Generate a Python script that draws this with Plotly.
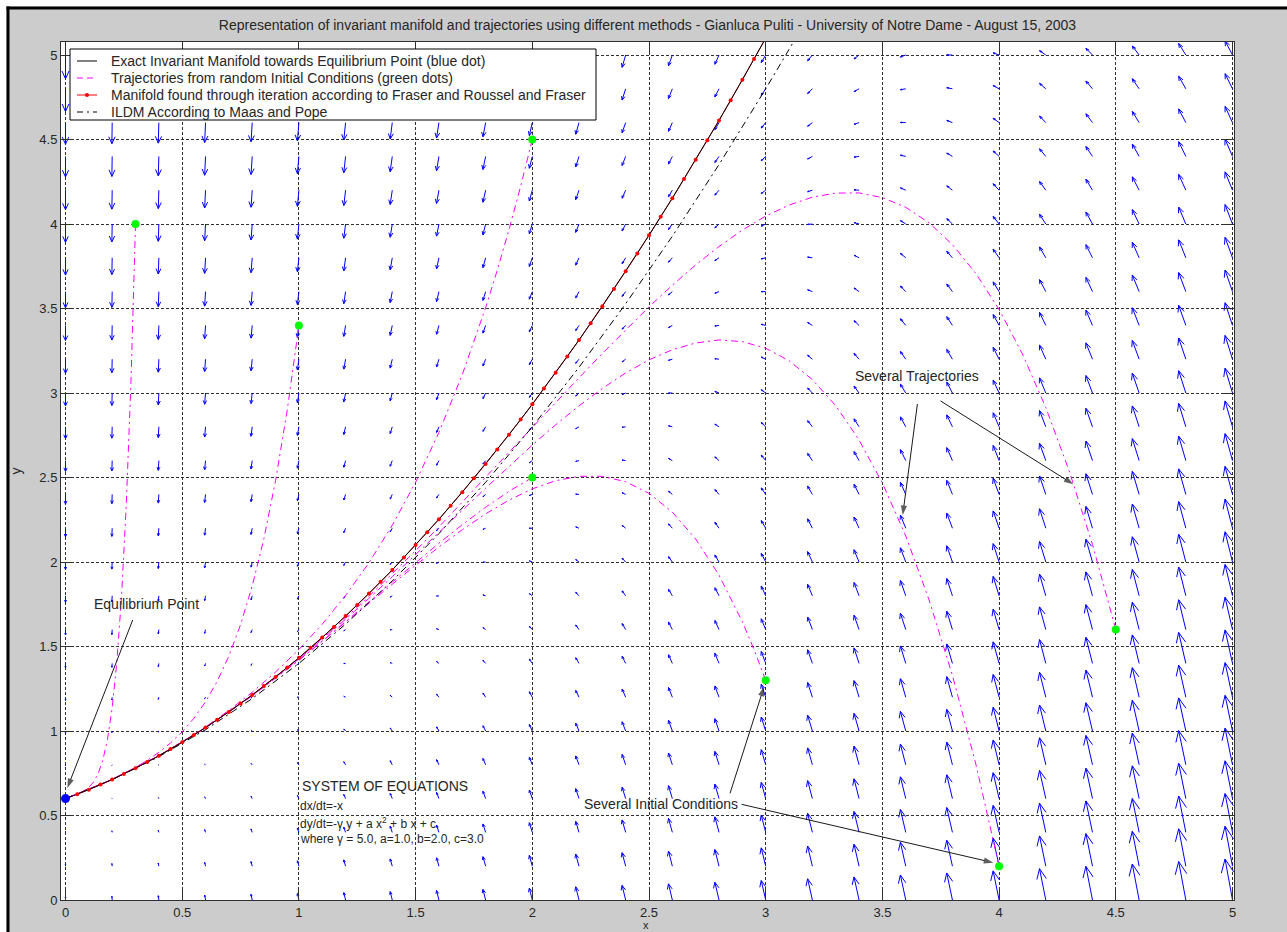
import math
import numpy as np
import plotly.graph_objects as go
import plotly.figure_factory as ff

# ---------------- data ----------------
title_text = ("Representation of invariant manifold and trajectories using different methods - "
              "Gianluca Puliti - University of Notre Dame - August 15, 2003")

# quiver grid (x = 0:0.2:5, y = 0:0.2:5) and the system written on the chart
grid_x = [0.0, 0.2, 0.4, 0.6, 0.8, 1.0, 1.2, 1.4, 1.6, 1.8, 2.0, 2.2, 2.4, 2.6, 2.8,
          3.0, 3.2, 3.4, 3.6, 3.8, 4.0, 4.2, 4.4, 4.6, 4.8, 5.0]
grid_y = [0.0, 0.2, 0.4, 0.6, 0.8, 1.0, 1.2, 1.4, 1.6, 1.8, 2.0, 2.2, 2.4, 2.6, 2.8,
          3.0, 3.2, 3.4, 3.6, 3.8, 4.0, 4.2, 4.4, 4.6, 4.8, 5.0]
gamma_coef, a_coef, b_coef, c_coef = 5.0, 1.0, 2.0, 3.0

tick_vals = [0, 0.5, 1, 1.5, 2, 2.5, 3, 3.5, 4, 4.5, 5]
tick_text = ["0", "0.5", "1", "1.5", "2", "2.5", "3", "3.5", "4", "4.5", "5"]
x_label = "x"
y_label = "y"

# exact invariant manifold (black solid)
exact_x = [0.0, 0.1, 0.2, 0.3, 0.4, 0.5, 0.6, 0.7, 0.8, 0.9, 1.0, 1.1, 1.2, 1.3, 1.4, 1.5,
           1.6, 1.7, 1.8, 1.9, 2.0, 2.1, 2.2, 2.3, 2.4, 2.5, 2.6, 2.7, 2.8, 2.9, 3.0]
exact_y = [0.6, 0.653, 0.713, 0.78, 0.853, 0.933, 1.02, 1.113, 1.213, 1.32, 1.433, 1.553,
           1.68, 1.813, 1.953, 2.1, 2.253, 2.413, 2.58, 2.753, 2.933, 3.12, 3.313, 3.513,
           3.72, 3.933, 4.153, 4.38, 4.613, 4.853, 5.1]

# manifold through iteration (red dots)
iter_x = [0.05, 0.10, 0.15, 0.20, 0.25, 0.30, 0.35, 0.40, 0.45, 0.50,
          0.55, 0.60, 0.65, 0.70, 0.75, 0.80, 0.85, 0.90, 0.95, 1.00,
          1.05, 1.10, 1.15, 1.20, 1.25, 1.30, 1.35, 1.40, 1.45, 1.50,
          1.55, 1.60, 1.65, 1.70, 1.75, 1.80, 1.85, 1.90, 1.95, 2.00,
          2.05, 2.10, 2.15, 2.20, 2.25, 2.30, 2.35, 2.40, 2.45, 2.50,
          2.55, 2.60, 2.65, 2.70, 2.75, 2.80, 2.85, 2.90, 2.95, 3.00]
iter_y = [0.626, 0.653, 0.683, 0.713, 0.746, 0.78, 0.816, 0.853, 0.893, 0.933,
          0.976, 1.02, 1.066, 1.113, 1.163, 1.213, 1.266, 1.32, 1.376, 1.433,
          1.493, 1.553, 1.616, 1.68, 1.746, 1.813, 1.883, 1.953, 2.026, 2.1,
          2.176, 2.253, 2.333, 2.413, 2.496, 2.58, 2.666, 2.753, 2.843, 2.933,
          3.026, 3.12, 3.216, 3.313, 3.413, 3.513, 3.616, 3.72, 3.826, 3.933,
          4.043, 4.153, 4.266, 4.38, 4.496, 4.613, 4.733, 4.853, 4.976, 5.1]

# ILDM (black dash-dot)
ildm_x = [0.0, 0.2, 0.4, 0.6, 0.8, 1.0, 1.2, 1.4, 1.6, 1.8, 2.0, 2.2, 2.4, 2.6, 2.8, 3.0, 3.1, 3.2]
ildm_y = [0.6, 0.712, 0.848, 1.008, 1.192, 1.4, 1.632, 1.888, 2.168, 2.472, 2.8, 3.152,
          3.528, 3.928, 4.352, 4.8, 5.033, 5.272]

# trajectories (magenta dash-dot)
traj1_x = [0.3, 0.28, 0.26, 0.24, 0.22, 0.2, 0.18, 0.16, 0.14, 0.12, 0.1, 0.08, 0.05, 0.0]
traj1_y = [4.0, 3.047, 2.327, 1.794, 1.409, 1.137, 0.951, 0.828, 0.748, 0.698, 0.667, 0.647, 0.626, 0.6]
traj2_x = [1.0, 0.95, 0.9, 0.85, 0.8, 0.75, 0.7, 0.65, 0.6, 0.55, 0.5, 0.45, 0.4, 0.35, 0.3, 0.2, 0.1, 0.0]
traj2_y = [3.4, 2.898, 2.481, 2.138, 1.858, 1.629, 1.444, 1.294, 1.173, 1.075, 0.995, 0.929,
           0.874, 0.826, 0.785, 0.714, 0.653, 0.6]
traj3_x = [2.0, 1.95, 1.9, 1.85, 1.8, 1.7, 1.6, 1.5, 1.4, 1.3, 1.2, 1.1, 1.0, 0.9, 0.8, 0.7,
           0.6, 0.5, 0.4, 0.2, 0.0]
traj3_y = [4.5, 4.223, 3.966, 3.727, 3.505, 3.109, 2.767, 2.472, 2.217, 1.995, 1.802, 1.632,
           1.482, 1.349, 1.229, 1.122, 1.024, 0.935, 0.854, 0.713, 0.6]
traj4_x = [2.0, 1.9, 1.8, 1.7, 1.6, 1.5, 1.4, 1.3, 1.2, 1.1, 1.0, 0.8, 0.6, 0.4, 0.2, 0.0]
traj4_y = [2.5, 2.418, 2.324, 2.221, 2.111, 1.997, 1.881, 1.763, 1.646, 1.532, 1.42, 1.209,
           1.019, 0.853, 0.713, 0.6]
traj5_x = [3.0, 2.95, 2.9, 2.8, 2.7, 2.6, 2.5, 2.4, 2.3, 2.2, 2.1, 2.0, 1.9, 1.8, 1.7, 1.6,
           1.5, 1.4, 1.3, 1.2, 1.0, 0.8, 0.6, 0.4, 0.2, 0.0]
traj5_y = [1.3, 1.482, 1.646, 1.922, 2.136, 2.295, 2.406, 2.475, 2.507, 2.507, 2.481, 2.433,
           2.366, 2.285, 2.191, 2.089, 1.981, 1.869, 1.755, 1.641, 1.418, 1.208, 1.019, 0.853,
           0.713, 0.6]
traj6_x = [4.0, 3.9, 3.8, 3.7, 3.6, 3.5, 3.4, 3.3, 3.2, 3.1, 3.0, 2.9, 2.8, 2.7, 2.6, 2.5,
           2.4, 2.3, 2.2, 2.1, 2.0, 1.9, 1.8, 1.7, 1.6, 1.5, 1.4, 1.3, 1.2, 1.0, 0.8, 0.6,
           0.4, 0.2, 0.0]
traj6_y = [0.2, 0.806, 1.329, 1.776, 2.154, 2.467, 2.722, 2.925, 3.079, 3.191, 3.265, 3.304,
           3.314, 3.296, 3.256, 3.196, 3.119, 3.027, 2.924, 2.812, 2.692, 2.566, 2.437, 2.306,
           2.174, 2.043, 1.913, 1.785, 1.661, 1.426, 1.211, 1.019, 0.853, 0.713, 0.6]
traj7_x = [4.5, 4.4, 4.3, 4.2, 4.1, 4.0, 3.9, 3.8, 3.7, 3.6, 3.5, 3.4, 3.3, 3.2, 3.1, 3.0,
           2.9, 2.8, 2.7, 2.6, 2.5, 2.4, 2.3, 2.2, 2.1, 2.0, 1.9, 1.8, 1.7, 1.6, 1.5, 1.4,
           1.3, 1.2, 1.0, 0.8, 0.6, 0.4, 0.2, 0.0]
traj7_y = [1.6, 2.104, 2.54, 2.914, 3.231, 3.494, 3.708, 3.878, 4.007, 4.099, 4.156, 4.184,
           4.183, 4.159, 4.112, 4.047, 3.964, 3.867, 3.758, 3.638, 3.51, 3.375, 3.234, 3.09,
           2.943, 2.795, 2.646, 2.498, 2.352, 2.208, 2.067, 1.93, 1.797, 1.669, 1.429, 1.212,
           1.02, 0.853, 0.713, 0.6]

# equilibrium point (blue) and initial conditions (green)
equil_x = [0.0]
equil_y = [0.6]
ic_x = [0.3, 1.0, 2.0, 2.0, 3.0, 4.0, 4.5]
ic_y = [4.0, 3.4, 4.5, 2.5, 1.3, 0.2, 1.6]

legend_names = [
    "Exact Invariant Manifold towards Equilibrium Point (blue dot)",
    "Trajectories from random Initial Conditions (green dots)",
    "Manifold found through iteration according to Fraser and Roussel and Fraser",
    "ILDM According to Maas and Pope",
]

# ---------------- layout helpers ----------------
W, H = 1287, 932
PL, PR, PT, PB = 61, 1234, 42, 900          # plot area in pixels
FONT = "Liberation Sans, Arial, Helvetica, sans-serif"
TXT = "#262626"
DASHDOT = "7px,4px,2px,4px"


def px_x(p):
    return (p - PL) / (PR - PL)


def px_y(p):
    return (PB - p) / (PB - PT)


# ---------------- quiver (MATLAB-style autoscale) ----------------
GX, GY = np.meshgrid(np.array(grid_x), np.array(grid_y))
U = -GX
V = -gamma_coef * GY + a_coef * GX ** 2 + b_coef * GX + c_coef
n = len(grid_x)
delx = (max(grid_x) - min(grid_x)) / n
dely = (max(grid_y) - min(grid_y)) / n
del2 = delx ** 2 + dely ** 2
maxlen = float(np.sqrt((U ** 2 + V ** 2) / del2).max())
q_scale = 0.9 / maxlen
alpha, beta = 0.33, 0.33
quiv = ff.create_quiver(GX.flatten().tolist(), GY.flatten().tolist(),
                        U.flatten().tolist(), V.flatten().tolist(),
                        scale=q_scale, arrow_scale=alpha * math.sqrt(1 + beta ** 2),
                        angle=math.atan(beta),
                        line=dict(color="#0000ff", width=1),
                        hoverinfo="skip", showlegend=False, name="field")

fig = go.Figure()
fig.add_trace(quiv.data[0])


def join(*pairs):
    xs, ys = [], []
    for px_, py_ in pairs:
        xs += list(px_) + [None]
        ys += list(py_) + [None]
    return xs, ys


tx, ty = join((traj1_x, traj1_y), (traj2_x, traj2_y), (traj3_x, traj3_y), (traj4_x, traj4_y),
              (traj5_x, traj5_y), (traj6_x, traj6_y), (traj7_x, traj7_y))

fig.add_trace(go.Scatter(x=tx, y=ty, mode="lines", name=legend_names[1], showlegend=False,
                         line=dict(color="#ff00ff", width=1, dash=DASHDOT),
                         connectgaps=False, hoverinfo="skip"))
fig.add_trace(go.Scatter(x=ildm_x, y=ildm_y, mode="lines", name=legend_names[3], showlegend=False,
                         line=dict(color="#000000", width=1, dash=DASHDOT), hoverinfo="skip"))
fig.add_trace(go.Scatter(x=iter_x, y=iter_y, mode="lines", name=legend_names[2], showlegend=False,
                         line=dict(color="#ff0000", width=1), hoverinfo="skip"))
fig.add_trace(go.Scatter(x=exact_x, y=exact_y, mode="lines", name=legend_names[0], showlegend=False,
                         line=dict(color="#000000", width=1), hoverinfo="skip"))
fig.add_trace(go.Scatter(x=iter_x, y=iter_y, mode="markers", showlegend=False,
                         marker=dict(color="#ff0000", size=4), hoverinfo="skip"))
fig.add_trace(go.Scatter(x=ic_x, y=ic_y, mode="markers", showlegend=False, cliponaxis=False,
                         marker=dict(color="#00ff00", size=8), hoverinfo="skip"))
fig.add_trace(go.Scatter(x=equil_x, y=equil_y, mode="markers", showlegend=False, cliponaxis=False,
                         marker=dict(color="#0000ff", size=9), hoverinfo="skip"))

# annotation arrows: (tail_x, tail_y, tip_x, tip_y) in data units
arrows = [
    (0.288, 1.657, 0.008, 0.663),
    (3.650, 2.935, 3.587, 2.278),
    (3.749, 2.953, 4.318, 2.460),
    (2.847, 0.631, 2.993, 1.262),
    (2.897, 0.566, 3.975, 0.221),
]
for ax_, ay_, x_, y_ in arrows:
    fig.add_trace(go.Scatter(x=[ax_, x_], y=[ay_, y_], mode="lines+markers", showlegend=False,
                             hoverinfo="skip", cliponaxis=False,
                             line=dict(color="#1a1a1a", width=1),
                             marker=dict(symbol="arrow", size=[0, 10], angleref="previous",
                                         color="#1a1a1a", line=dict(width=0))))

axis_common = dict(
    tickvals=tick_vals, ticktext=tick_text, showgrid=True, gridcolor="#303030", gridwidth=1,
    griddash="3px,2px", ticks="inside", ticklen=11, tickwidth=1, tickcolor="#303030",
    showline=True, linecolor="#303030", linewidth=1, mirror="ticks", zeroline=False,
    automargin=False, tickfont=dict(family=FONT, size=13, color=TXT),
)

fig.update_layout(
    width=W, height=H, autosize=False,
    paper_bgcolor="#cccccc", plot_bgcolor="#ffffff",
    margin=dict(l=PL, r=W - PR, t=PT, b=H - PB, pad=0),
    font=dict(family=FONT, color=TXT, size=12),
    title=dict(text=title_text, x=0.5, xref="paper", xanchor="center",
               y=1 - 25 / H, yref="container", yanchor="middle",
               font=dict(family=FONT, size=14, color=TXT)),
    xaxis=dict(range=[-0.0193, 5.0064], **axis_common),
    yaxis=dict(range=[0, 5.077], title=dict(text=y_label, standoff=14,
                                            font=dict(family=FONT, size=14, color=TXT)),
               **axis_common),
    showlegend=False,
)

# x-axis label, at the very bottom edge as in the screenshot
fig.add_annotation(text=x_label, xref="paper", yref="paper", x=px_x(646), y=px_y(932),
                   xanchor="center", yanchor="bottom", showarrow=False, borderpad=0,
                   font=dict(family=FONT, size=11, color=TXT))

# text annotations in data units
texts = [
    dict(text="Equilibrium Point", x=0.349, y=1.751, size=14, xanchor="center"),
    dict(text="Several Trajectories", x=3.647, y=3.102, size=14, xanchor="center"),
    dict(text="Several Initial Conditions", x=2.551, y=0.568, size=14, xanchor="center"),
    dict(text="SYSTEM OF EQUATIONS", x=1.005, y=0.675, size=14, xanchor="left"),
    dict(text="dx/dt=-x", x=0.995, y=0.558, size=12, xanchor="left"),
    dict(text="dy/dt=-γ y + a x<sup>2</sup> + b x + c", x=0.995, y=0.456, size=12, xanchor="left"),
    dict(text="where γ = 5.0, a=1.0, b=2.0, c=3.0", x=0.995, y=0.359, size=12, xanchor="left"),
]
for t in texts:
    fig.add_annotation(text=t["text"], x=t["x"], y=t["y"], xref="x", yref="y",
                       xanchor=t["xanchor"], yanchor="middle", showarrow=False,
                       font=dict(family=FONT, size=t["size"], color=TXT))

# ---------------- legend box (MATLAB style) ----------------
LEG_L, LEG_R, LEG_T, LEG_B = 70, 596, 49, 120
row_y = [61, 78, 95, 112]
fig.add_shape(type="rect", xref="paper", yref="paper",
              x0=px_x(LEG_L), x1=px_x(LEG_R), y0=px_y(LEG_B), y1=px_y(LEG_T),
              fillcolor="#ffffff", line=dict(color="#000000", width=1), layer="above")
legend_styles = [
    dict(color="#000000", dash="solid"),
    dict(color="#ff00ff", dash="6px,4px"),
    dict(color="#ff0000", dash="solid"),
    dict(color="#000000", dash="6px,4px,2px,4px"),
]
for i, (name, st) in enumerate(zip(legend_names, legend_styles)):
    yy = px_y(row_y[i])
    fig.add_shape(type="line", xref="paper", yref="paper", x0=px_x(77), x1=px_x(97), y0=yy, y1=yy,
                  line=dict(color=st["color"], width=1, dash=st["dash"]), layer="above")
    if i == 2:
        fig.add_shape(type="circle", xref="paper", yref="paper",
                      x0=px_x(85), x1=px_x(89), y0=px_y(row_y[i] + 2), y1=px_y(row_y[i] - 2),
                      fillcolor="#ff0000", line=dict(width=0), layer="above")
    fig.add_annotation(text=name, xref="paper", yref="paper", x=px_x(109), y=yy,
                       xanchor="left", yanchor="middle", showarrow=False,
                       font=dict(family=FONT, size=14, color=TXT))

# window frame (white page edge + black border) drawn in paper coordinates
frame = [
    (0, 0, W, 6.5, "#ffffff"),
    (0, 0, 6.5, H, "#ffffff"),
    (6.5, 6.5, W, 9.5, "#000000"),
    (6.5, 6.5, 9.5, H, "#000000"),
]
for x0, y0, x1, y1, col in frame:
    fig.add_shape(type="rect", xref="paper", yref="paper",
                  x0=px_x(x0), x1=px_x(x1), y0=px_y(y1), y1=px_y(y0),
                  fillcolor=col, line=dict(width=0), layer="above")

fig.write_html("out.html", config={"displayModeBar": False},
               post_script="document.body.style.margin='0px';document.body.style.overflow='hidden';")
